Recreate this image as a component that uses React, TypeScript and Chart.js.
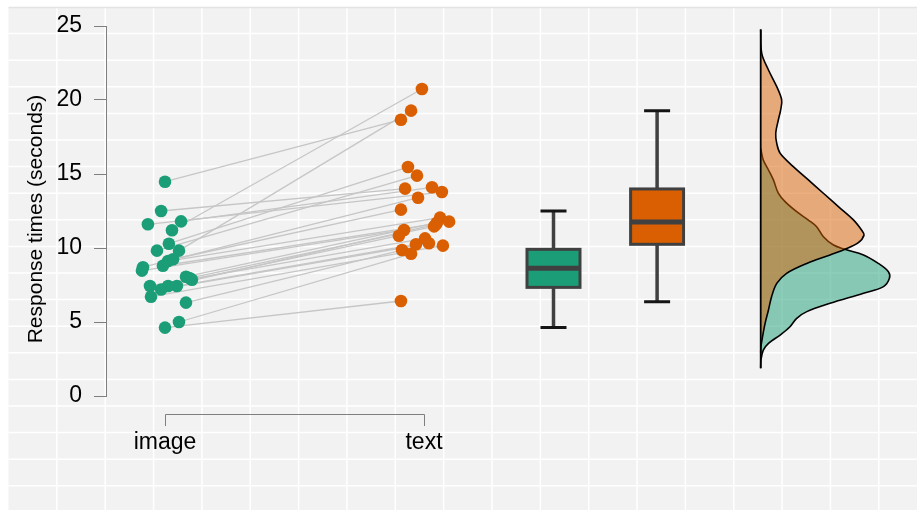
import { useEffect, useRef } from "react";
import { Chart, registerables } from "chart.js";

Chart.register(...registerables);

// ---------- data ----------
const groups = ["image", "text"];
const groupX = [1, 2];

// paired response times: imageTimes[i] <-> textTimes[i]
const imageTimes = [14.48, 11.2, 9.82, 12.5, 11.8, 11.6, 10.29, 9.82, 9.24, 9.12, 8.8, 8.7, 8.47, 8.06, 7.97, 7.86, 7.43, 7.43, 7.2, 7.43, 6.71, 6.31, 5.0, 4.62];
const imageJitter = [0, 0.027, 0.054, -0.015, 0.062, -0.066, 0.015, -0.031, 0.031, 0.012, -0.008, -0.085, -0.089, 0.081, 0.094, 0.104, -0.058, 0.012, -0.015, 0.046, -0.054, 0.081, 0.054, 0];
const textTimes = [18.67, 20.74, 19.28, 14.01, 14.1, 13.78, 15.47, 14.89, 12.59, 12.05, 11.78, 13.4, 11.22, 11.71, 11.46, 10.83, 10.65, 11.6, 10.32, 10.25, 10.16, 9.86, 9.61, 6.42];
const textJitter = [-0.089, -0.008, -0.05, -0.073, 0.031, 0.069, -0.062, -0.027, -0.089, 0.062, 0.097, -0.023, -0.077, 0.05, 0.039, -0.097, 0.004, 0.046, 0.019, -0.031, 0.073, -0.085, -0.05, -0.089];

// box plot statistics (image, text)
const boxX = [2.5, 2.9];
const boxLow = [4.62, 6.37];
const boxQ1 = [7.34, 10.25];
const boxMedian = [8.63, 11.76];
const boxQ3 = [9.91, 13.99];
const boxHigh = [12.5, 19.28];

// half-violin densities
const densityBase = 3.3;
const imageDensityY = [16.73, 15.95, 15.27, 14.6, 13.7, 13.13, 12.45, 11.89, 11.44, 10.76, 10.2, 9.91, 9.53, 8.96, 8.4, 7.95, 7.39, 6.94, 6.26, 5.7, 5.25, 4.68, 4.12, 3.56, 3.1, 2.43, 1.87];
const imageDensityW = [0, 0.01, 0.03, 0.049, 0.068, 0.094, 0.139, 0.184, 0.216, 0.242, 0.281, 0.325, 0.397, 0.454, 0.493, 0.497, 0.474, 0.397, 0.268, 0.178, 0.139, 0.113, 0.075, 0.03, 0.01, 0.001, 0];
const textDensityY = [24.77, 23.15, 22.03, 20.9, 20.0, 19.32, 18.65, 17.75, 17.07, 16.4, 15.5, 14.6, 13.7, 12.8, 11.9, 11.2, 10.88, 10.36, 9.91, 9.53, 8.96, 8.29, 7.61, 6.71, 5.81, 4.91, 4.0, 3.33, 2.9];
const textDensityW = [0, 0.004, 0.03, 0.062, 0.081, 0.077, 0.068, 0.058, 0.062, 0.075, 0.126, 0.184, 0.242, 0.3, 0.358, 0.39, 0.399, 0.377, 0.325, 0.268, 0.178, 0.1, 0.062, 0.042, 0.03, 0.017, 0.007, 0.001, 0];

const yTicks = [0, 5, 10, 15, 20, 25];
const yTitle = "Response times (seconds)";

// ---------- styles ----------
const GREEN = "#1b9e77";
const ORANGE = "#d95f02";
const AXIS = "#7f7f7f";
const FONT = "'Liberation Sans', Arial, sans-serif";
const X_MIN = 0.7722;
const X_MAX = 3.861;

const bgPlugin = {
  id: "bg",
  beforeDraw(chart: any) {
    const { ctx, width, height } = chart;
    ctx.save();
    ctx.fillStyle = "#ffffff";
    ctx.fillRect(0, 0, width, height);
    const left = 8.5;
    const top = 7;
    ctx.fillStyle = "#f2f2f2";
    ctx.fillRect(left, top, width - left, height - top);
    ctx.strokeStyle = "#ffffff";
    ctx.lineWidth = 1.5;
    ctx.beginPath();
    for (let x = left + 48.35; x < width; x += 48.35) {
      ctx.moveTo(x, top);
      ctx.lineTo(x, height);
    }
    for (let y = top + 26.6; y < height; y += 26.6) {
      ctx.moveTo(left, y);
      ctx.lineTo(width, y);
    }
    ctx.stroke();
    ctx.strokeStyle = "#e3e3e3";
    ctx.lineWidth = 1.5;
    ctx.beginPath();
    ctx.moveTo(left, top + 0.5);
    ctx.lineTo(width, top + 0.5);
    ctx.stroke();
    ctx.restore();
  },
};

const boxPlugin = {
  id: "boxes",
  afterDatasetsDraw(chart: any) {
    const { ctx } = chart;
    const xs = chart.scales.x;
    const ys = chart.scales.y;
    const fills = [GREEN, ORANGE];
    ctx.save();
    boxX.forEach((bx, i) => {
      const x = xs.getPixelForValue(bx);
      const yl = ys.getPixelForValue(boxLow[i]);
      const y1 = ys.getPixelForValue(boxQ1[i]);
      const ym = ys.getPixelForValue(boxMedian[i]);
      const y3 = ys.getPixelForValue(boxQ3[i]);
      const yh = ys.getPixelForValue(boxHigh[i]);
      const hw = 26.5;
      ctx.strokeStyle = "#404040";
      ctx.lineWidth = 3.5;
      ctx.beginPath();
      ctx.moveTo(x, yl);
      ctx.lineTo(x, y1);
      ctx.moveTo(x, y3);
      ctx.lineTo(x, yh);
      ctx.stroke();
      ctx.strokeStyle = "#151515";
      ctx.lineWidth = 3;
      ctx.beginPath();
      ctx.moveTo(x - 13, yl);
      ctx.lineTo(x + 13, yl);
      ctx.moveTo(x - 13, yh);
      ctx.lineTo(x + 13, yh);
      ctx.stroke();
      ctx.fillStyle = fills[i];
      ctx.fillRect(x - hw, y3, hw * 2, y1 - y3);
      ctx.strokeStyle = "#404040";
      ctx.lineWidth = 3;
      ctx.strokeRect(x - hw, y3, hw * 2, y1 - y3);
      ctx.lineWidth = 5;
      ctx.beginPath();
      ctx.moveTo(x - hw, ym);
      ctx.lineTo(x + hw, ym);
      ctx.stroke();
    });
    ctx.restore();
  },
};

const axisTextPlugin = {
  id: "axisText",
  afterDraw(chart: any) {
    const { ctx, chartArea } = chart;
    const xs = chart.scales.x;
    const x1 = Math.round(xs.getPixelForValue(groupX[0])) + 0.5;
    const x2 = Math.round(xs.getPixelForValue(groupX[1])) + 0.5;
    const yLine = chartArea.bottom + 18.5;
    const yTick = chartArea.bottom + 30;
    ctx.save();
    ctx.strokeStyle = AXIS;
    ctx.lineWidth = 1;
    ctx.beginPath();
    ctx.moveTo(x1, yTick);
    ctx.lineTo(x1, yLine);
    ctx.lineTo(x2, yLine);
    ctx.lineTo(x2, yTick);
    ctx.stroke();
    ctx.fillStyle = "#000";
    ctx.font = `23px ${FONT}`;
    ctx.textAlign = "center";
    ctx.textBaseline = "alphabetic";
    groups.forEach((g, i) => {
      ctx.fillText(g, xs.getPixelForValue(groupX[i]), chartArea.bottom + 53);
    });
    // y-axis title
    ctx.translate(36, (chartArea.top + chartArea.bottom) / 2 + 8);
    ctx.rotate(-Math.PI / 2);
    ctx.font = `21px ${FONT}`;
    ctx.textBaseline = "middle";
    ctx.fillText(yTitle, 0, 0);
    ctx.restore();
  },
};

export default function App() {
  const ref = useRef<HTMLCanvasElement>(null);
  useEffect(() => {
    document.body.style.margin = "0";
    document.body.style.overflow = "hidden";
    const canvas = ref.current!;
    const datasets: any[] = [];

    imageTimes.forEach((v, i) => {
      datasets.push({
        type: "line",
        data: [
          { x: groupX[0] + imageJitter[i], y: v },
          { x: groupX[1] + textJitter[i], y: textTimes[i] },
        ],
        borderColor: "#c6c6c6",
        borderWidth: 1.3,
        pointRadius: 0,
        fill: false,
        tension: 0,
        order: 30,
      });
    });

    datasets.push({
      type: "scatter",
      data: imageTimes.map((v, i) => ({ x: groupX[0] + imageJitter[i], y: v })),
      backgroundColor: GREEN,
      borderWidth: 0,
      pointRadius: 6.3,
      order: 2,
    });
    datasets.push({
      type: "scatter",
      data: textTimes.map((v, i) => ({ x: groupX[1] + textJitter[i], y: v })),
      backgroundColor: ORANGE,
      borderWidth: 0,
      pointRadius: 6.3,
      order: 1,
    });

    const densityDs = (ys: number[], ws: number[], color: string, order: number) => ({
      type: "line",
      data: ys.map((y, i) => ({ x: densityBase + ws[i], y })),
      backgroundColor: color,
      borderColor: "#000",
      borderWidth: 1.6,
      pointRadius: 0,
      fill: "shape",
      tension: 0.35,
      order,
    });
    datasets.push(densityDs(imageDensityY, imageDensityW, "rgba(27,158,119,0.5)", 12));
    datasets.push(densityDs(textDensityY, textDensityW, "rgba(217,95,2,0.5)", 11));
    const yAll = imageDensityY.concat(textDensityY);
    datasets.push({
      type: "line",
      data: [
        { x: densityBase, y: Math.min(...yAll) },
        { x: densityBase, y: Math.max(...yAll) },
      ],
      borderColor: "#000",
      borderWidth: 1.8,
      pointRadius: 0,
      fill: false,
      order: 10,
    });

    const chart = new Chart(canvas, {
      type: "scatter",
      data: { datasets },
      options: {
        animation: false,
        responsive: false,
        devicePixelRatio: 1,
        layout: { padding: { left: 0, right: 11, top: 26, bottom: 114 } },
        plugins: { legend: { display: false }, tooltip: { enabled: false } },
        scales: {
          x: { type: "linear", display: false, min: X_MIN, max: X_MAX },
          y: {
            type: "linear",
            min: 0,
            max: 25,
            afterBuildTicks: (s: any) => {
              s.ticks = yTicks.map((v) => ({ value: v }));
            },
            afterFit: (s: any) => {
              s.width = 106;
            },
            ticks: { color: "#000", font: { size: 23, family: FONT }, padding: 12 },
            grid: { drawOnChartArea: false, drawTicks: true, tickLength: 12, color: AXIS },
            border: { display: true, color: AXIS, width: 1 },
            title: { display: false },
          },
        },
      } as any,
      plugins: [bgPlugin, boxPlugin, axisTextPlugin],
    });
    return () => chart.destroy();
  }, []);

  return <canvas ref={ref} width={917} height={510} style={{ display: "block" }} />;
}
